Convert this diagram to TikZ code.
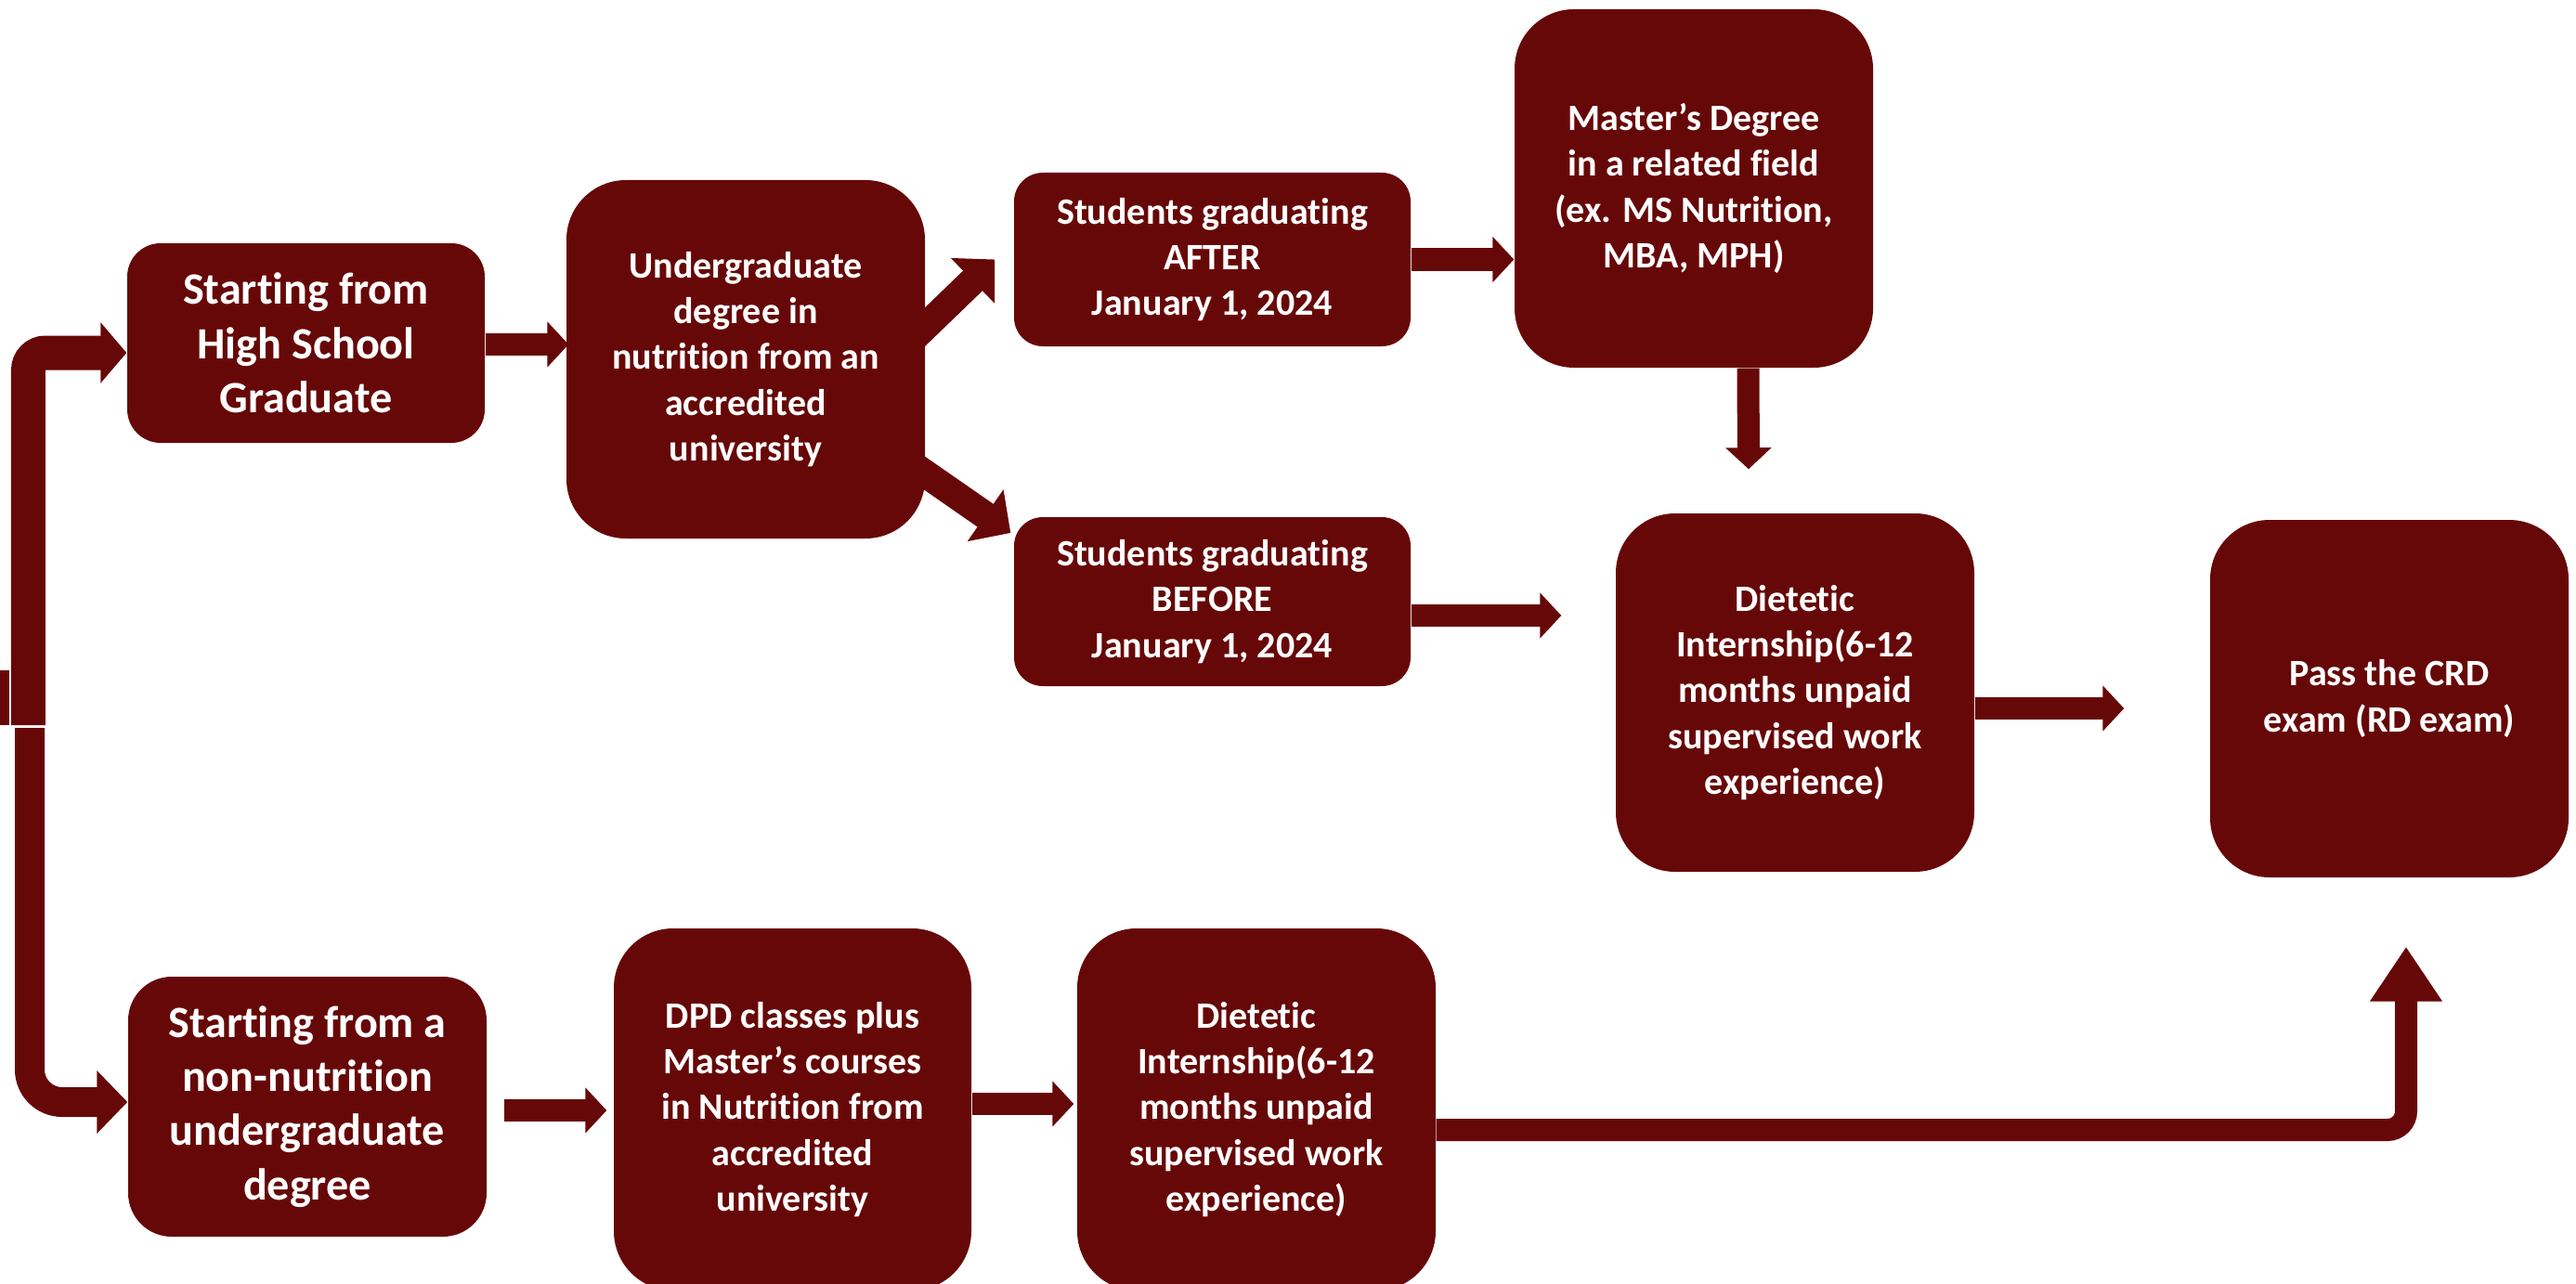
\documentclass[tikz,border=0pt]{standalone}
\usepackage{fontspec}
\setmainfont{Carlito}[Ligatures=NoCommon]
\usetikzlibrary{arrows.meta}
\definecolor{maroon}{RGB}{103,8,8}

\begin{document}
\begin{tikzpicture}
  \tikzset{
    stepbox/.style={fill=maroon, text=white, align=center, inner sep=0pt,
      font=\bfseries\fontsize{11.4}{14}\selectfont},
    bigbox/.style={stepbox, font=\bfseries\fontsize{13.7}{16.6}\selectfont},
    flow/.style={maroon, line width=0.24cm, -{Triangle[width=0.48cm,length=0.23cm]}},
    slant/.style={maroon, line width=0.30cm, -{Triangle[width=0.66cm,length=0.33cm]}},
  }
  \useasboundingbox (0,0) rectangle (27.74,-13.83);

  % boxes
  \node[bigbox, minimum width=3.85cm, minimum height=2.15cm, rounded corners=0.36cm] (hs) at (3.295,-3.695) {Starting from\\High School\\Graduate};
  \node[stepbox, minimum width=3.86cm, minimum height=3.86cm, rounded corners=0.64cm] (ug) at (8.03,-3.87) {Undergraduate\\degree in\\nutrition from an\\accredited\\university};
  \node[stepbox, minimum width=4.27cm, minimum height=1.87cm, rounded corners=0.31cm] (after) at (13.055,-2.795) {Students graduating\\AFTER\\January 1, 2024};
  \node[stepbox, minimum width=4.27cm, minimum height=1.82cm, rounded corners=0.31cm] (before) at (13.055,-6.48) {Students graduating\\BEFORE\\January 1, 2024};
  \node[stepbox, minimum width=3.86cm, minimum height=3.86cm, rounded corners=0.64cm] (ms) at (18.24,-2.03) {Master’s Degree\\in a related field\\(ex. MS Nutrition,\\MBA, MPH)};
  \node[stepbox, minimum width=3.86cm, minimum height=3.86cm, rounded corners=0.64cm] (di1) at (19.33,-7.46) {Dietetic\\Internship(6-12\\months unpaid\\supervised work\\experience)};
  \node[stepbox, minimum width=3.86cm, minimum height=3.85cm, rounded corners=0.64cm] (crd) at (25.73,-7.525) {Pass the CRD\\exam (RD exam)};
  \node[bigbox, minimum width=3.86cm, minimum height=2.80cm, rounded corners=0.47cm] (nn) at (3.31,-11.92) {Starting from a\\non-nutrition\\undergraduate\\degree};
  \node[stepbox, minimum width=3.85cm, minimum height=3.90cm, rounded corners=0.64cm] (dpd) at (8.535,-11.95) {DPD classes plus\\Master’s courses\\in Nutrition from\\accredited\\university};
  \node[stepbox, minimum width=3.86cm, minimum height=3.90cm, rounded corners=0.64cm] (di2) at (13.53,-11.95) {Dietetic\\Internship(6-12\\months unpaid\\supervised work\\experience)};

  % fork on the left
  \coordinate (forkup) at (0.305,-7.81);
  \coordinate (forkdown) at (0.32,-7.84);
  \fill[maroon] (0,-7.22) rectangle (0.10,-7.81);
  \draw[maroon, line width=0.37cm, rounded corners=0.185cm, -{Triangle[width=0.64cm,length=0.28cm]}] (forkup) |- ([yshift=-0.105cm]hs.west);
  \draw[maroon, line width=0.32cm, rounded corners=0.35cm, -{Triangle[width=0.66cm,length=0.33cm]}] (forkdown) |- ([yshift=0.05cm]nn.west);

  % arrows
  \draw[flow, shorten >=-0.03cm] ([yshift=-0.015cm]hs.east) -- ([yshift=-0.015cm]hs.east -| ug.west);
  \draw[slant] ([shift={(-0.15,0.21)}]ug.east) -- ([xshift=-0.2cm]after.west);
  \draw[slant] ([shift={(-0.15,-1.13)}]ug.east) -- ([shift={(-0.03,0.74)}]before.west);
  \draw[flow] (after.east) -- (after.east -| ms.west);
  \draw[flow] ([xshift=0.585cm]ms.south) -- ([shift={(-0.5,0.47)}]di1.north);
  \draw[flow, shorten >=0.58cm] ([yshift=-0.15cm]before.east) -- ([yshift=-0.15cm]before.east -| di1.west);
  \draw[flow, shorten >=0.92cm] ([yshift=-0.17cm]di1.east) -- ([yshift=-0.17cm]di1.east -| crd.west);
  \draw[flow, shorten <=0.18cm, shorten >=0.07cm] ([yshift=-0.04cm]nn.east) -- ([yshift=-0.04cm]nn.east -| dpd.west);
  \draw[flow, shorten >=0.03cm] ([yshift=0.06cm]dpd.east) -- ([yshift=0.06cm]dpd.east -| di2.west);
  \draw[maroon, line width=0.24cm, rounded corners=0.2cm, -{Triangle[width=0.74cm,length=0.59cm]}] ([yshift=-0.22cm]di2.east) -| ([shift={(0.18,-0.74)}]crd.south);
\end{tikzpicture}
\end{document}
